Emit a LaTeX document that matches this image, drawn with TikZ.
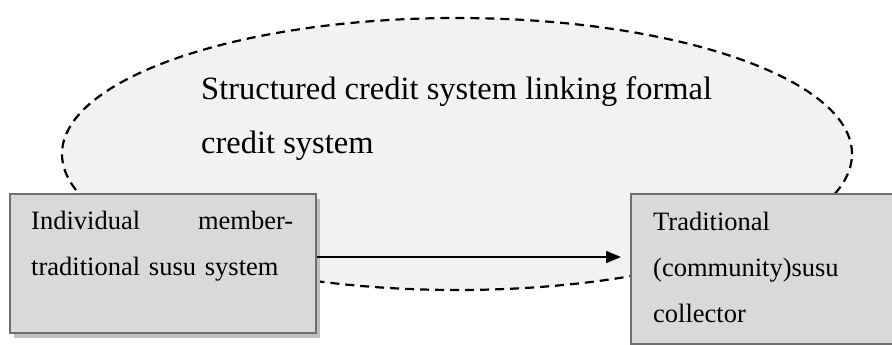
\documentclass[tikz,border=0pt]{standalone}
\usepackage{fontspec}
\setmainfont{Liberation Serif}
\usetikzlibrary{shapes.geometric,arrows.meta,shadows}
\definecolor{ellfill}{HTML}{F2F2F2}
\definecolor{boxfill}{HTML}{D9D9D9}
\definecolor{boxline}{HTML}{6F6F6F}
\definecolor{shadowc}{HTML}{BFBFBF}
\tikzset{
  cloud/.style={ellipse, draw=black, fill=ellfill, line width=2.2pt, dash pattern=on 9pt off 6pt, inner sep=0pt},
  actor/.style={rectangle, draw=boxline, fill=boxfill, line width=2pt, inner sep=0pt,
    drop shadow={shadow xshift=4pt, shadow yshift=-5pt, fill=shadowc, opacity=1}},
  bigtxt/.style={anchor=base west, align=left, inner sep=0pt, font=\fontsize{32.5}{54}\selectfont},
  boxtxt/.style={anchor=base west, align=left, inner sep=0pt, font=\fontsize{26.5}{46}\selectfont},
  flow/.style={-{Triangle[length=15pt,width=12pt]}, line width=1.5pt, black}
}
\begin{document}
\begin{tikzpicture}[x=1pt,y=-1pt]
\useasboundingbox (0,0) rectangle (892,345);
\clip (0,0) rectangle (892,345);
\node[cloud, minimum width=790pt, minimum height=272pt] (E) at (457,154) {};
\node[bigtxt] (Et) at (201,153) {Structured credit system linking formal\\credit system};
\node[actor, minimum width=306pt, minimum height=139pt] (L) at (163,263.5) {};
\node[actor, minimum width=300pt, minimum height=150pt] (R) at (781,269) {};
\node[boxtxt, text width=262pt] (Lt) at (31,229) {Individual\hfill member-\\traditional susu system};
\node[boxtxt] (Rt) at (653,322) {Traditional\\(community)susu\\collector};
\coordinate (a) at ([yshift=6.5pt]L.east);
\draw[flow, shorten >=9pt] (a) -- (a -| R.west);
\end{tikzpicture}
\end{document}
